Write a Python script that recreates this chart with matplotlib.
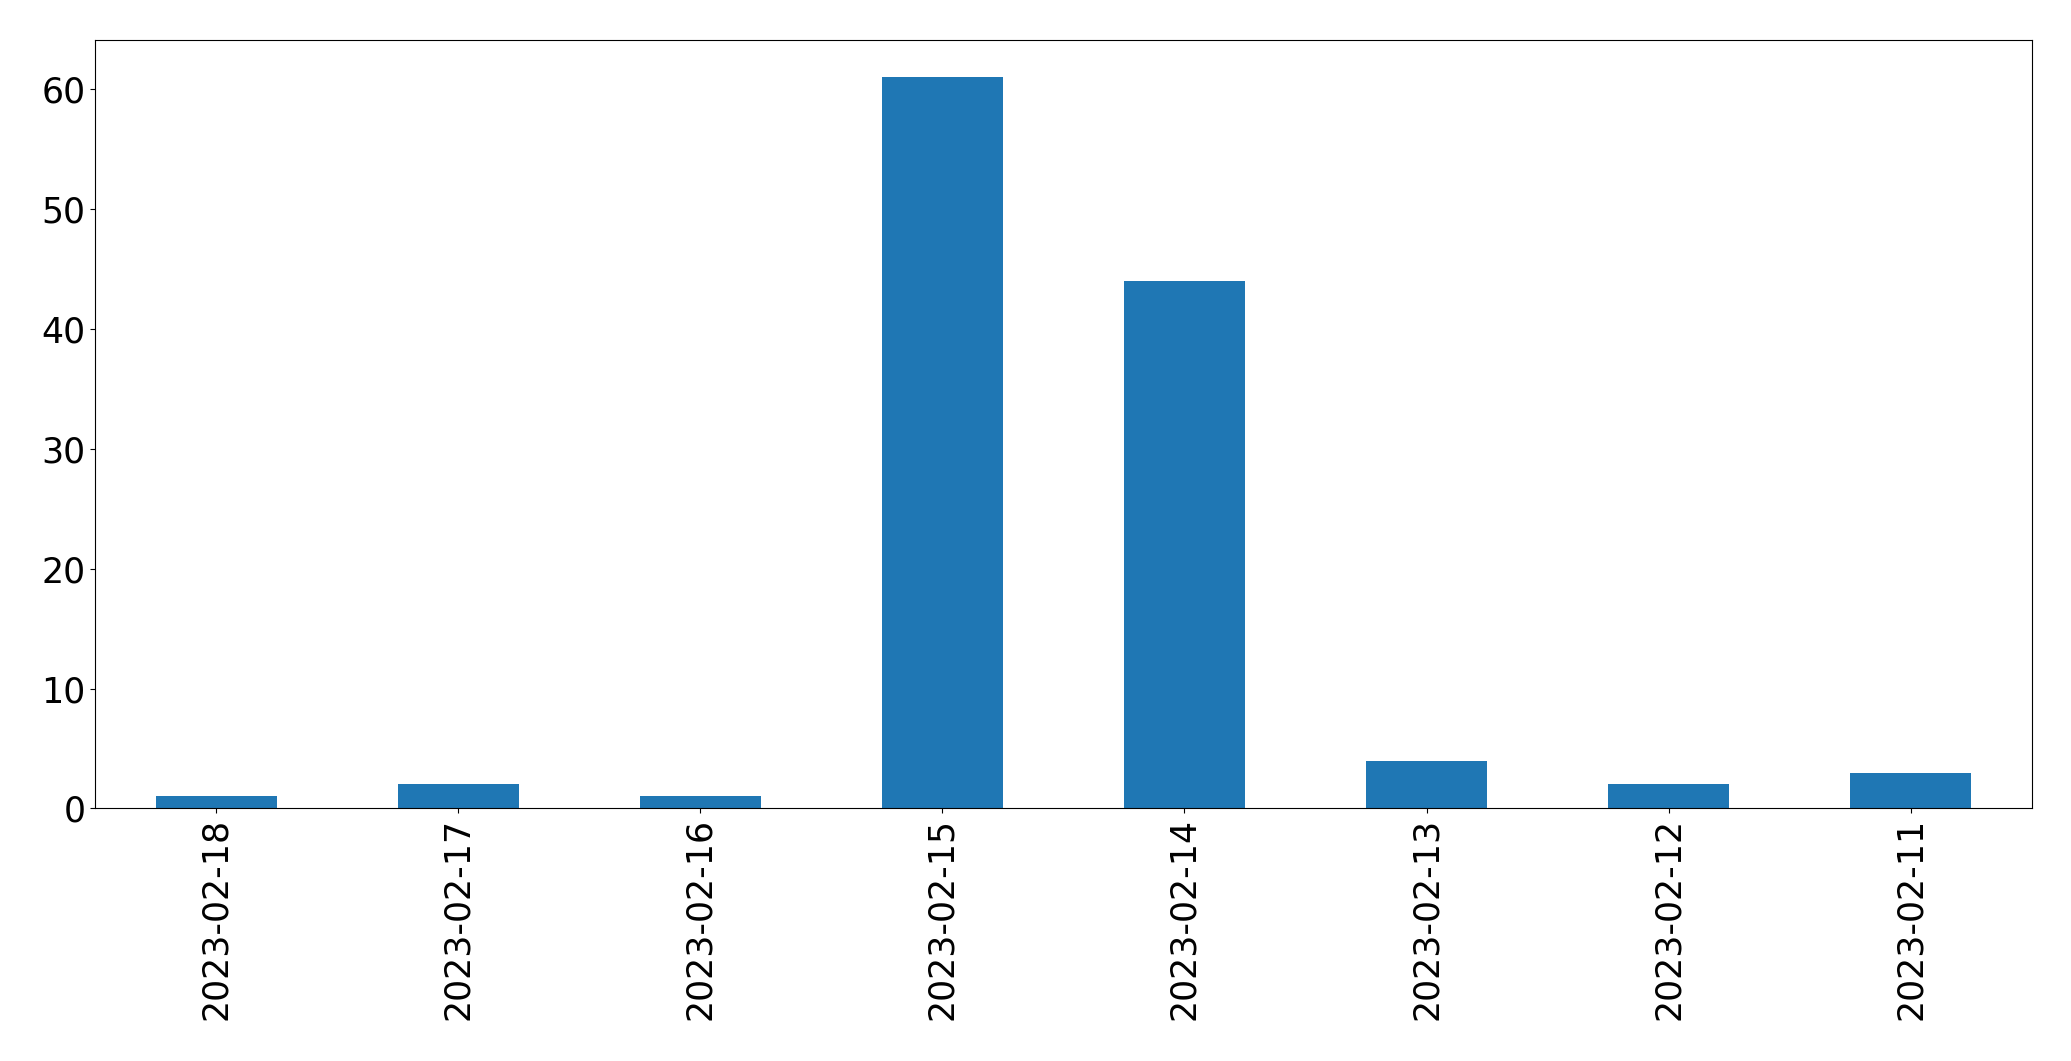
import pandas as pd
import matplotlib
matplotlib.use("Agg")
import matplotlib.pyplot as plt

fechas = ['2023-02-18', '2023-02-17', '2023-02-16', '2023-02-15',
          '2023-02-14', '2023-02-13', '2023-02-12', '2023-02-11']
conteo = [1, 2, 1, 61, 44, 4, 2, 3]

serie = pd.Series(conteo, index=fechas)

fig = plt.figure(figsize=(20.71, 10.61), dpi=100)
ax = fig.add_axes([0.046, 0.238, 0.935, 0.724])
serie.plot(kind='bar', ax=ax, fontsize=25)

fig.savefig("out.png", dpi=100)
